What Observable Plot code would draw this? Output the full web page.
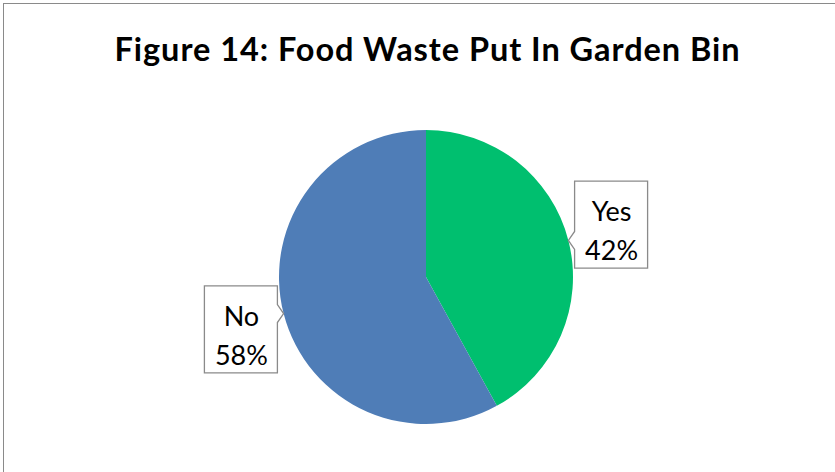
<!DOCTYPE html>
<html><head><meta charset="utf-8">
<script src="https://cdn.jsdelivr.net/npm/d3@7"></script>
<script src="https://cdn.jsdelivr.net/npm/@observablehq/plot@0.6"></script>
<style>
html,body{margin:0;padding:0;background:#fff;overflow:hidden}
body{width:835px;height:472px;overflow:hidden;position:relative;font-family:Lato,sans-serif}
#frame{position:absolute;left:3px;top:3px;width:900px;height:600px;border-left:1px solid #8a8a8a;border-top:1px solid #8a8a8a;pointer-events:none}
#title{position:absolute;left:10px;top:29px;width:835px;text-align:center;font:bold 32.5px/39px Lato,sans-serif;letter-spacing:0.95px;color:#000;white-space:nowrap}
#chart{position:absolute;left:0;top:100px}
</style></head><body>
<div id="title">Figure 14: Food Waste Put In Garden Bin</div>
<div id="chart"></div>
<div id="frame"></div>
<script>
// Data
const categories = ["Yes", "No"];
const values = [42, 58];
const colors = ["#00BF6F", "#4F7DB7"];

const W = 835, H = 372;
const R = 147;              // pie radius in px (1 data unit)
const cx = 426, cy = 177;   // pie centre in svg px

const data = categories.map((c, i) => ({category: c, value: values[i], color: colors[i]}));
const arcs = d3.pie().sort(null).value(d => d.value)(data);
const labelRx = 1.30, labelRy = 1.43;
const labels = arcs.map(a => {
  const m = (a.startAngle + a.endAngle) / 2;
  return {
    text: `${a.data.category}\n${a.data.value}%`,
    x: labelRx * Math.sin(m), y: labelRy * Math.cos(m),
    tx: Math.sin(m), ty: Math.cos(m)
  };
});

function piePainter(...args) {
  const scales = args.find(a => a && typeof a.x === "function" && typeof a.y === "function");
  const svgNS = "http://www.w3.org/2000/svg";
  const g = document.createElementNS(svgNS, "g");
  const x0 = scales.x(0), y0 = scales.y(0);
  const r = scales.x(1) - x0;
  const arcGen = d3.arc().innerRadius(0).outerRadius(r);
  for (const a of arcs) {
    const p = document.createElementNS(svgNS, "path");
    p.setAttribute("d", arcGen(a));
    p.setAttribute("transform", `translate(${x0},${y0})`);
    p.setAttribute("fill", a.data.color);
    g.appendChild(p);
  }
  const bw = 73, bh = 87, nh = 9;
  for (const l of labels) {
    const lx = scales.x(l.x), ly = scales.y(l.y);
    const tx = scales.x(l.tx), ty = scales.y(l.ty);
    const left = lx - bw / 2, right = lx + bw / 2, top = ly - bh / 2, bottom = ly + bh / 2;
    const ny = Math.max(top + nh, Math.min(bottom - nh, ty));
    let d;
    if (tx < left) {
      d = `M${left},${top}H${right}V${bottom}H${left}V${ny + nh}L${tx},${ty}L${left},${ny - nh}Z`;
    } else {
      d = `M${left},${top}H${right}V${ny - nh}L${tx},${ty}L${right},${ny + nh}V${bottom}H${left}Z`;
    }
    const p = document.createElementNS(svgNS, "path");
    p.setAttribute("d", d);
    p.setAttribute("fill", "#fff");
    p.setAttribute("stroke", "#8a8a8a");
    p.setAttribute("stroke-width", "1.3");
    g.appendChild(p);
  }
  return g;
}

const chart = Plot.plot({
  width: W, height: H,
  marginTop: 0, marginRight: 0, marginBottom: 0, marginLeft: 0,
  style: {background: "none", overflow: "visible"},
  x: {domain: [-cx / R, (W - cx) / R], axis: null},
  y: {domain: [-(H - cy) / R, cy / R], axis: null},
  marks: [
    piePainter,
    Plot.text(labels, {
      x: "x", y: "y", text: "text",
      fontSize: 27, lineHeight: 1.444, dy: 3,
      fill: "#000", fontFamily: "Lato, sans-serif"
    })
  ]
});
document.getElementById("chart").appendChild(chart);
</script>
</body></html>
